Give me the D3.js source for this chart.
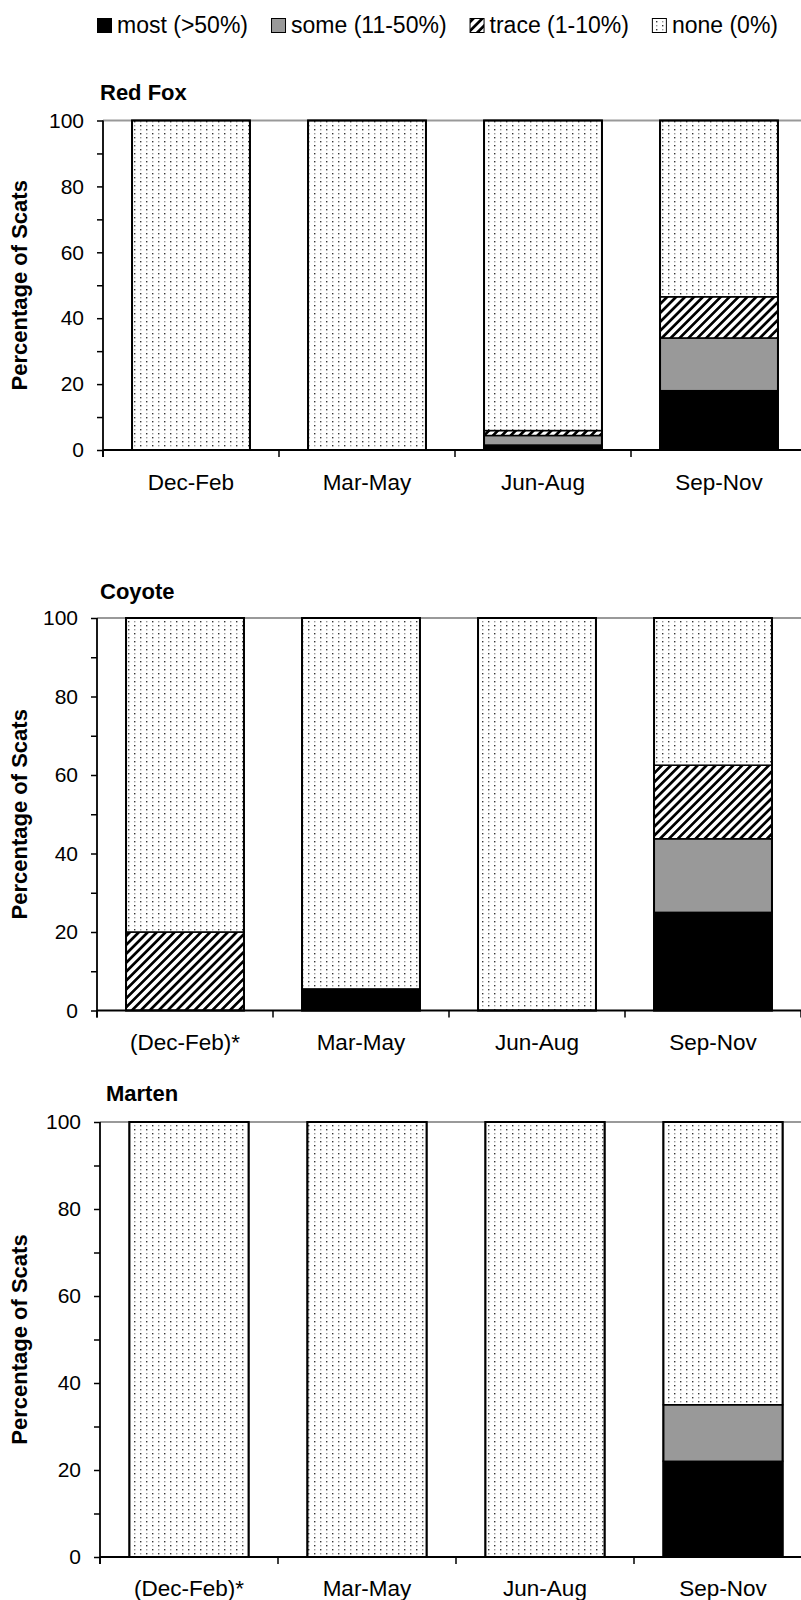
<!DOCTYPE html>
<html><head><meta charset="utf-8">
<script src="https://cdn.jsdelivr.net/npm/d3@7"></script>
<style>
body{margin:0;background:#fff}
svg{display:block}
text{font-family:"Liberation Sans",Arial,Helvetica,sans-serif;fill:#000}
</style>
</head><body>
<svg id="chart" width="801" height="1600"></svg>
<script>
// ---------------- DATA ----------------
const levels = ["most", "some", "trace", "none"];
const legendLabels = ["most (>50%)", "some (11-50%)", "trace (1-10%)", "none (0%)"];

const redFoxCategories = ["Dec-Feb", "Mar-May", "Jun-Aug", "Sep-Nov"];
const redFoxMost  = [0, 0, 1.5, 18];
const redFoxSome  = [0, 0, 2.9, 16];
const redFoxTrace = [0, 0, 1.5, 12.5];
const redFoxNone  = [100, 100, 94.1, 53.5];

const coyoteCategories = ["(Dec-Feb)*", "Mar-May", "Jun-Aug", "Sep-Nov"];
const coyoteMost  = [0, 5.5, 0, 25];
const coyoteSome  = [0, 0, 0, 18.75];
const coyoteTrace = [20, 0, 0, 18.75];
const coyoteNone  = [80, 94.5, 100, 37.5];

const martenCategories = ["(Dec-Feb)*", "Mar-May", "Jun-Aug", "Sep-Nov"];
const martenMost  = [0, 0, 0, 22];
const martenSome  = [0, 0, 0, 13];
const martenTrace = [0, 0, 0, 0];
const martenNone  = [100, 100, 100, 65];

const yTickValues = [0, 20, 40, 60, 80, 100];
const yMinorTickValues = [10, 30, 50, 70, 90];
const yAxisTitle = "Percentage of Scats";

// ---------------- LAYOUT ----------------
const panels = [
  {title: "Red Fox", cats: redFoxCategories, series: [redFoxMost, redFoxSome, redFoxTrace, redFoxNone],
   titleX: 100, titleY: 100, x0: 103, x1: 807, yTop: 120.5, yBot: 450, labelY: 490},
  {title: "Coyote", cats: coyoteCategories, series: [coyoteMost, coyoteSome, coyoteTrace, coyoteNone],
   titleX: 100, titleY: 599, x0: 97, x1: 801, yTop: 618, yBot: 1010.5, labelY: 1050},
  {title: "Marten", cats: martenCategories, series: [martenMost, martenSome, martenTrace, martenNone],
   titleX: 106, titleY: 1101, x0: 100, x1: 812, yTop: 1122, yBot: 1557, labelY: 1596}
];

const svg = d3.select("#chart");
const defs = svg.append("defs");

// dotted pattern ("none")
const dots = defs.append("pattern").attr("id", "dots").attr("patternUnits", "userSpaceOnUse")
  .attr("width", 12).attr("height", 8);
dots.append("rect").attr("width", 12).attr("height", 8).attr("fill", "#fff");
[[2, 1, "#333"], [8, 5, "#333"], [8, 1, "#999"], [2, 5, "#999"]].forEach(([x, y, c]) =>
  dots.append("rect").attr("x", x).attr("y", y).attr("width", 1.4).attr("height", 1.4).attr("fill", c));

// diagonal hatch ("trace")
const hatch = defs.append("pattern").attr("id", "hatch").attr("patternUnits", "userSpaceOnUse")
  .attr("width", 6.3).attr("height", 6.3).attr("patternTransform", "rotate(45)");
hatch.append("rect").attr("width", 6.3).attr("height", 6.3).attr("fill", "#fff");
hatch.append("rect").attr("width", 2.7).attr("height", 6.3).attr("fill", "#000");

const fills = {most: "#000", some: "#999999", trace: "url(#hatch)", none: "url(#dots)"};

// ---------------- LEGEND ----------------
const legend = svg.append("g").attr("class", "legend");
let lx = 97;
legendLabels.forEach((lab, i) => {
  const g = legend.append("g");
  g.append("rect").attr("x", lx + 0.5).attr("y", 18.5).attr("width", 14).attr("height", 14)
    .attr("fill", fills[levels[i]]).attr("stroke", "#000").attr("stroke-width", 1);
  const t = g.append("text").attr("x", lx + 20).attr("y", 33).attr("font-size", 23).text(lab);
  const w = t.node().getComputedTextLength();
  lx = lx + 20 + w + 23;
});

// ---------------- PANELS ----------------
panels.forEach(p => {
  const g = svg.append("g");
  const rows = p.cats.map((c, i) => {
    const r = {cat: c};
    levels.forEach((k, j) => r[k] = p.series[j][i]);
    return r;
  });
  const stacked = d3.stack().keys(levels)(rows);

  const x = d3.scaleBand().domain(p.cats).range([p.x0, p.x1]).paddingInner(0.33).paddingOuter(0.165);
  const y = d3.scaleLinear().domain([0, 100]).range([p.yBot, p.yTop]);

  // title
  g.append("text").attr("x", p.titleX).attr("y", p.titleY).attr("font-size", 22)
    .attr("font-weight", "bold").text(p.title);

  // y axis title
  g.append("text").attr("transform", `translate(27,${(p.yTop + p.yBot) / 2}) rotate(-90)`)
    .attr("text-anchor", "middle").attr("font-size", 22).attr("font-weight", "bold").text(yAxisTitle);

  // gray top line at 100
  g.append("line").attr("x1", p.x0).attr("x2", 801).attr("y1", y(100)).attr("y2", y(100))
    .attr("stroke", "#999").attr("stroke-width", 2);

  // stacked segments
  g.append("g").selectAll("g").data(stacked).join("g")
    .attr("fill", d => fills[d.key])
    .selectAll("rect").data(d => d.filter(s => s[1] - s[0] > 0)).join("rect")
    .attr("x", d => x(d.data.cat)).attr("width", x.bandwidth())
    .attr("y", d => y(d[1])).attr("height", d => y(d[0]) - y(d[1]))
    .attr("stroke", "#000").attr("stroke-width", 1.5);

  // bar outlines
  const total = d => levels.reduce((s, k) => s + d[k], 0);
  g.append("g").selectAll("rect").data(rows).join("rect")
    .attr("x", d => x(d.cat)).attr("width", x.bandwidth())
    .attr("y", d => y(total(d))).attr("height", d => y(0) - y(total(d)))
    .attr("fill", "none").attr("stroke", "#000").attr("stroke-width", 2);

  // y axis
  const ya = g.append("g").attr("transform", `translate(${p.x0},0)`)
    .call(d3.axisLeft(y).tickValues(yTickValues).tickSize(6).tickPadding(13));
  ya.select(".domain").remove();
  ya.selectAll("text").attr("font-size", 21).attr("font-family", null);
  ya.selectAll("line").attr("stroke", "#000").attr("stroke-width", 1.5);
  const ym = g.append("g").attr("transform", `translate(${p.x0},0)`)
    .call(d3.axisLeft(y).tickValues(yMinorTickValues).tickSize(6).tickFormat(""));
  ym.select(".domain").remove();
  ym.selectAll("line").attr("stroke", "#000").attr("stroke-width", 1.5);
  g.append("line").attr("x1", p.x0).attr("x2", p.x0).attr("y1", y(100)).attr("y2", y(0) + 7)
    .attr("stroke", "#000").attr("stroke-width", 1.8);

  // x axis
  g.append("line").attr("x1", p.x0).attr("x2", p.x1).attr("y1", y(0)).attr("y2", y(0))
    .attr("stroke", "#000").attr("stroke-width", 1.8);
  const step = x.step();
  g.append("g").selectAll("line").data(d3.range(p.cats.length + 1)).join("line")
    .attr("x1", i => p.x0 + i * step).attr("x2", i => p.x0 + i * step)
    .attr("y1", y(0)).attr("y2", y(0) + 7).attr("stroke", "#000").attr("stroke-width", 1.5);
  const xa = g.append("g").attr("transform", `translate(0,${y(0)})`)
    .call(d3.axisBottom(x).tickSize(0));
  xa.select(".domain").remove();
  xa.selectAll("text").attr("y", p.labelY - p.yBot).attr("dy", 0)
    .attr("font-size", 22.5).attr("font-family", null);
});
</script>
</body></html>
